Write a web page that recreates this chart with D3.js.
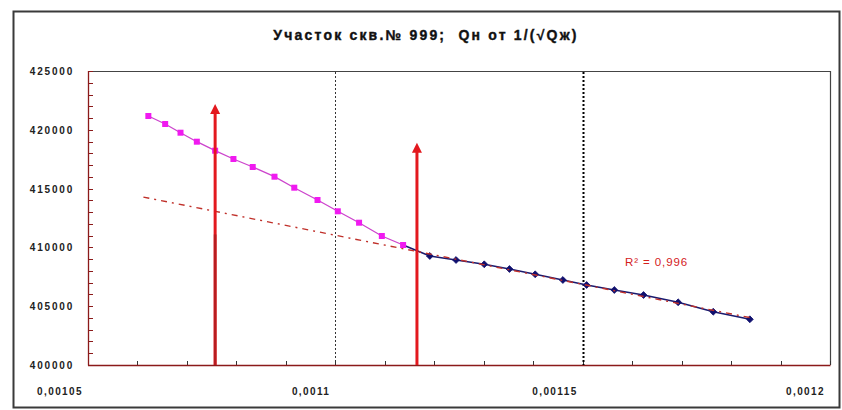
<!DOCTYPE html>
<html>
<head>
<meta charset="utf-8">
<script src="https://cdn.jsdelivr.net/npm/d3@7"></script>
<style>
  html, body { margin: 0; padding: 0; background: #fff; }
  svg { display: block; }
  text { font-family: "Liberation Sans", Arial, sans-serif; }
</style>
</head>
<body>
<script>
// Upper interval of the well test (magenta squares)
const upperX = [0.0010622, 0.0010656, 0.0010687, 0.0010720, 0.0010757, 0.0010794, 0.0010833,
                0.0010877, 0.0010917, 0.0010964, 0.0011005, 0.0011048, 0.0011094, 0.0011137];
const upperY = [421173, 420493, 419753, 418988, 418223, 417517, 416837,
                416012, 415077, 414031, 413070, 412100, 410969, 410204];

// Lower interval (navy diamonds); first point is shared with the upper interval
const lowerX = [0.0011137, 0.0011191, 0.0011244, 0.0011301, 0.0011352, 0.0011404, 0.0011460,
                0.0011508, 0.0011564, 0.0011623, 0.0011693, 0.0011764, 0.0011838];
const lowerY = [410204, 409269, 408929, 408563, 408163, 407713, 407228,
                406803, 406378, 405952, 405332, 404532, 403886];

// Trend line on the lower interval is extended back to this x
const trendStartX = 0.0010612;
const rSquaredLabel = "R² = 0,996";

// Vertical markers (arrows) and dotted boundaries
const arrowX = [0.0010757, 0.0011165];
const arrowTopY = [422200, 418900];
const arrowBreakY = [411100, null];
const boundaryX = [0.0011, 0.00115];

// Axes
const xDomain = [0.00105, 0.0012];
const yDomain = [400000, 425000];
const xTickLabels = ["0,00105", "0,0011", "0,00115", "0,0012"];
const xTickValues = [0.00105, 0.0011, 0.00115, 0.0012];
const yTickValues = [400000, 405000, 410000, 415000, 420000, 425000];
const titleText = "Участок скв.№ 999;  Qн от 1/(√Qж)";

const W = 842, H = 410;
const plot = { left: 88, top: 71, right: 830, bottom: 365 };

const svg = d3.select("body").append("svg").attr("width", W).attr("height", H);

// chart frame
svg.append("rect").attr("x", 13.5).attr("y", 11.5).attr("width", 826).attr("height", 396)
  .attr("fill", "#fff").attr("stroke", "#3a3a3a").attr("stroke-width", 2);

const x = d3.scaleLinear().domain(xDomain).range([plot.left, plot.right]);
const y = d3.scaleLinear().domain(yDomain).range([plot.bottom, plot.top]);

// title
svg.append("text").attr("x", 426).attr("y", 40).attr("text-anchor", "middle")
  .attr("font-size", 14).attr("font-weight", "bold").attr("letter-spacing", 2.2)
  .attr("fill", "#111").attr("stroke", "#111").attr("stroke-width", 0.4)
  .style("white-space", "pre")
  .text(titleText);

// plot border (top/right)
svg.append("path")
  .attr("d", `M${plot.left},${plot.top + 0.5}H${plot.right + 0.5}V${plot.bottom}`)
  .attr("fill", "none").attr("stroke", "#444").attr("stroke-width", 1.2);

// minor ticks inside the plot
const axisColor = "#8b1a1a";
const xMinor = d3.range(0, 16).map(i => xDomain[0] + i * 0.00001);
svg.append("g").selectAll("line").data(xMinor).join("line")
  .attr("x1", d => Math.round(x(d)) + 0.5).attr("x2", d => Math.round(x(d)) + 0.5)
  .attr("y1", plot.bottom).attr("y2", plot.bottom - 4)
  .attr("stroke", "#333").attr("stroke-width", 1);
const yMinor = d3.range(0, 26).map(i => yDomain[0] + i * 1000);
svg.append("g").selectAll("line").data(yMinor).join("line")
  .attr("y1", d => Math.round(y(d)) + 0.5).attr("y2", d => Math.round(y(d)) + 0.5)
  .attr("x1", plot.left).attr("x2", plot.left + 5)
  .attr("stroke", axisColor).attr("stroke-width", 1);

// axis lines
svg.append("line").attr("x1", plot.left + 0.5).attr("x2", plot.left + 0.5)
  .attr("y1", plot.top).attr("y2", plot.bottom + 0.5)
  .attr("stroke", axisColor).attr("stroke-width", 1.3);
svg.append("line").attr("x1", plot.left).attr("x2", plot.right + 0.5)
  .attr("y1", plot.bottom + 0.5).attr("y2", plot.bottom + 0.5)
  .attr("stroke", axisColor).attr("stroke-width", 1.3);

// axis labels
svg.append("g").selectAll("text").data(yTickValues).join("text")
  .attr("x", plot.left - 14).attr("y", d => y(d) + 4)
  .attr("text-anchor", "end").attr("font-size", 10).attr("font-weight", "bold")
  .attr("letter-spacing", 1.8).attr("fill", "#222").text(d => d);
svg.append("g").selectAll("text").data(xTickValues).join("text")
  .attr("x", d => x(d) - 5).attr("y", 395)
  .attr("text-anchor", "end").attr("font-size", 10).attr("font-weight", "bold")
  .attr("letter-spacing", 1.4).attr("fill", "#222").text((d, i) => xTickLabels[i]);

// dotted boundaries
svg.append("g").selectAll("line").data(boundaryX).join("line")
  .attr("x1", d => Math.round(x(d)) + 0.5).attr("x2", d => Math.round(x(d)) + 0.5)
  .attr("y1", plot.top + 1).attr("y2", plot.bottom)
  .attr("stroke", (d, i) => i === 0 ? "#333" : "#000")
  .attr("stroke-width", (d, i) => i === 0 ? 1 : 2)
  .attr("stroke-dasharray", "2,2");

// least-squares trend on the lower interval
const lx = lowerX.slice(1), ly = lowerY.slice(1);
const mx = d3.mean(lx), my = d3.mean(ly);
const slope = d3.sum(lx, (v, i) => (v - mx) * (ly[i] - my)) / d3.sum(lx, v => (v - mx) ** 2);
const intercept = my - slope * mx;
const trendEnd = lowerX[lowerX.length - 1];
const trendPts = [trendStartX, trendEnd].map(v => [v, intercept + slope * v]);

const line = d3.line().x(d => x(d[0])).y(d => y(d[1]));

// lower interval
const lowerPts = lowerX.map((v, i) => [v, lowerY[i]]);
svg.append("path").attr("d", line(lowerPts)).attr("fill", "none")
  .attr("stroke", "#1a1a6e").attr("stroke-width", 1.6);
svg.append("g").selectAll("path").data(lowerPts.slice(1)).join("path")
  .attr("transform", d => `translate(${x(d[0])},${y(d[1])})`)
  .attr("d", d3.symbol(d3.symbolDiamond2, 30)())
  .attr("fill", "#10106e").attr("stroke", "#10106e").attr("stroke-width", 0.8);

// trend line
svg.append("path").attr("d", line(trendPts)).attr("fill", "none")
  .attr("stroke", "#c0302a").attr("stroke-width", 1.4)
  .attr("stroke-dasharray", "6,5,2,5");

// upper interval
const upperPts = upperX.map((v, i) => [v, upperY[i]]);
svg.append("path").attr("d", line(upperPts)).attr("fill", "none")
  .attr("stroke", "#cc44cc").attr("stroke-width", 1.3);
svg.append("g").selectAll("rect").data(upperPts).join("rect")
  .attr("x", d => x(d[0]) - 3).attr("y", d => y(d[1]) - 3)
  .attr("width", 6).attr("height", 6).attr("fill", "#f01af0");

// arrows
const arrowColor = "#e3181e";
const arrows = svg.append("g");
arrowX.forEach((ax, i) => {
  const px = x(ax), tip = y(arrowTopY[i]);
  arrows.append("line").attr("x1", px).attr("x2", px)
    .attr("y1", plot.bottom).attr("y2", tip + 8)
    .attr("stroke", arrowColor).attr("stroke-width", 3);
  if (arrowBreakY[i] !== null) {
    // darker lower section of the first marker
    arrows.append("line").attr("x1", px).attr("x2", px)
      .attr("y1", plot.bottom).attr("y2", y(arrowBreakY[i]))
      .attr("stroke", "#b81c20").attr("stroke-width", 2.6);
  }
  arrows.append("path")
    .attr("d", `M${px},${tip}L${px - 5},${tip + 10}L${px + 5},${tip + 10}Z`)
    .attr("fill", arrowColor);
});

// R² label
svg.append("text").attr("x", 625).attr("y", 266)
  .attr("font-size", 11.5).attr("fill", "#d4201c").attr("letter-spacing", 0.9)
  .text(rSquaredLabel);
</script>
</body>
</html>
